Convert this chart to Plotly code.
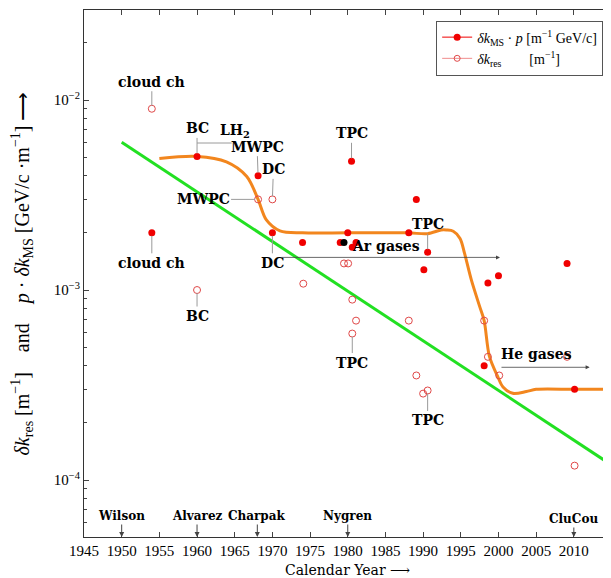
import numpy as np
import plotly.graph_objects as go

# ---- data -------------------------------------------------------------
ms_years = [1954, 1960, 1968.1, 1970, 1974, 1979, 1980, 1980.5, 1980.6, 1981.1,
            1988.1, 1989.1, 1990.1, 1990.6, 1998.1, 1998.6, 2000, 2009.1, 2010.1]
ms_vals = [2.0e-3, 5.05e-3, 4.0e-3, 2.0e-3, 1.78e-3, 1.78e-3, 2.0e-3, 4.76e-3, 1.68e-3, 1.78e-3,
           2.0e-3, 3.0e-3, 1.28e-3, 1.58e-3, 4.0e-4, 1.09e-3, 1.19e-3, 1.38e-3, 3.0e-4]

black_years = [1979.5]
black_vals = [1.78e-3]

res_years = [1954, 1960, 1968.1, 1970, 1974.1, 1979.5, 1980.05, 1980.6, 1981.1, 1980.6,
             1988.1, 1989.1, 1990.0, 1990.6, 1998.1, 1998.6, 2000.1, 2009.1, 2010.1]
res_vals = [9.0e-3, 1.0e-3, 3.0e-3, 3.0e-3, 1.08e-3, 1.38e-3, 1.38e-3, 8.9e-4, 6.9e-4, 5.9e-4,
            6.9e-4, 3.55e-4, 2.85e-4, 2.96e-4, 6.9e-4, 4.45e-4, 3.55e-4, 4.45e-4, 1.19e-4]

trend_years = [1955, 1960, 1963.9, 1966.6, 1968.1, 1969.2, 1971, 1974, 1980, 1988, 1990.6,
               1992.4, 1993.1, 1994.0, 1994.9, 1995.5, 1996.4, 1997.5, 1998.1, 1998.8, 1999.9,
               2000.6, 2001.9, 2003.7, 2005, 2010, 2015]
trend_vals = [4.93e-3, 5.05e-3, 4.73e-3, 3.96e-3, 3.0e-3, 2.34e-3, 2.05e-3, 2.0e-3, 2.0e-3, 2.0e-3, 1.98e-3,
              2.07e-3, 2.07e-3, 2.04e-3, 1.87e-3, 1.56e-3, 1.13e-3, 8.2e-4, 6.9e-4, 4.47e-4, 3.5e-4,
              3.09e-4, 2.86e-4, 2.92e-4, 3.0e-4, 3.0e-4, 3.0e-4]

limit_years = [1950, 2015]
limit_vals = [6.0e-3, 1.2e-4]

x_ticks = list(range(1945, 2015, 5))
y_tickvals = [1e-4, 1e-3, 1e-2]
y_ticktext = ["10<sup>−4</sup>", "10<sup>−3</sup>", "10<sup>−2</sup>"]

inventors = ["Wilson", "Alvarez", "Charpak", "Nygren", "CluCou"]
inventor_years = [1950, 1960, 1968, 1980, 2010]

# pin labels: (series, index, text, dx px, dy px)
pins = [
    ("res", 0, "cloud ch", 0, -27),
    ("ms", 1, "BC", 0, -28),
    ("ms", 2, "MWPC", -1, -29),
    ("res", 3, "DC", 1, -30),
    ("res", 2, "MWPC", -55, 0),
    ("ms", 0, "cloud ch", 0, 30),
    ("ms", 3, "DC", 0, 30),
    ("res", 1, "BC", 0, 26),
    ("ms", 7, "TPC", 0, -28),
    ("ms", 13, "TPC", 0, -28),
    ("res", 9, "TPC", 0, 29),
    ("res", 13, "TPC", 0, 30),
]

# gas arrows: (label, x_start, x_end, y_arrow, x_label, y_label)
gases = [
    ("Ar gases", 1971.0, 2000.2, 1.485e-3, 1985.1, 1.71e-3),
    ("He gases", 2000.2, 2012.1, 3.92e-4, 2005.0, 4.6e-4),
]
lh2_label = ("LH<sub>2</sub>", 1965.0, 6.87e-3)

# ---- styling ----------------------------------------------------------
RED = "#f00000"
RED_OPEN = "#e04848"
ORANGE = "#f2861e"
GREEN = "#22e022"
GRAY = "#9a9a9a"
SERIF = "Liberation Serif"
BOLD = "DejaVu Serif"

fig = go.Figure()

fig.add_trace(go.Scatter(x=limit_years, y=limit_vals, mode="lines",
                         line=dict(color=GREEN, width=3), showlegend=False, hoverinfo="skip"))
fig.add_trace(go.Scatter(x=trend_years, y=trend_vals, mode="lines",
                         line=dict(color=ORANGE, width=3, shape="spline", smoothing=0.9),
                         showlegend=False, hoverinfo="skip"))
fig.add_trace(go.Scatter(x=res_years, y=res_vals, mode="markers",
                         marker=dict(symbol="circle-open", size=7, color=RED_OPEN,
                                     line=dict(width=1, color=RED_OPEN)),
                         showlegend=False))
fig.add_trace(go.Scatter(x=ms_years, y=ms_vals, mode="markers",
                         marker=dict(symbol="circle", size=7, color=RED), showlegend=False))
fig.add_trace(go.Scatter(x=black_years, y=black_vals, mode="markers",
                         marker=dict(symbol="circle", size=7, color="black"), showlegend=False))

# legend entries
fig.add_trace(go.Scatter(x=[None], y=[None], mode="lines+markers",
                         name="<i>δk</i><sub>MS</sub> · <i>p</i> [m<sup>−1</sup> GeV/c]",
                         line=dict(color=RED, width=1), marker=dict(color=RED, size=7)))
fig.add_trace(go.Scatter(x=[None], y=[None], mode="lines+markers",
                         name="<i>δk</i><sub>res</sub>\u00a0\u00a0\u00a0\u00a0\u00a0\u00a0\u00a0 [m<sup>−1</sup>]",
                         line=dict(color="#f08c8c", width=1),
                         marker=dict(symbol="circle-open", color=RED_OPEN, size=6,
                                     line=dict(width=1, color=RED_OPEN))))

annotations = []
series = {"ms": (ms_years, ms_vals), "res": (res_years, res_vals)}
for s, i, txt, dx, dy in pins:
    xs, ys = series[s]
    annotations.append(dict(x=xs[i], y=np.log10(ys[i]), xref="x", yref="y",
                            text="<b>%s</b>" % txt, showarrow=True, arrowhead=0,
                            arrowcolor=GRAY, arrowwidth=1, ax=dx, ay=dy, standoff=3,
                            borderpad=1, font=dict(family=BOLD, size=14, color="black")))

for label, x0, x1, ya, xl, yl in gases:
    annotations.append(dict(x=x1, y=np.log10(ya), ax=x0, ay=np.log10(ya), xref="x", yref="y",
                            axref="x", ayref="y", text="", showarrow=True, arrowhead=2,
                            arrowsize=1, arrowwidth=0.8, arrowcolor="#444"))
    annotations.append(dict(x=xl, y=np.log10(yl), xref="x", yref="y", text="<b>%s</b>" % label,
                            showarrow=False, font=dict(family=BOLD, size=14, color="black")))

annotations.append(dict(x=lh2_label[1], y=np.log10(lh2_label[2]), xref="x", yref="y",
                        text="<b>%s</b>" % lh2_label[0], showarrow=False,
                        font=dict(family=BOLD, size=14, color="black")))

for name, yr in zip(inventors, inventor_years):
    annotations.append(dict(x=yr, y=0, xref="x", yref="paper", text="<b>%s</b>" % name,
                            showarrow=True, arrowhead=2, arrowsize=1, arrowwidth=1,
                            arrowcolor="#444", ax=0, ay=-21 if name != "CluCou" else -18,
                            font=dict(family=BOLD, size=12, color="black")))

# axis titles (centred on the plot area)
annotations.append(dict(x=-0.118, y=0.5, xref="paper", yref="paper", textangle=-90,
                        xanchor="center", yanchor="middle", showarrow=False,
                        text="<i>δk</i><sub>res</sub> [m<sup>−1</sup>]\u00a0\u00a0\u00a0 and \u00a0\u00a0\u00a0<i>p</i> · <i>δk</i><sub>MS</sub> [GeV/c ·m<sup>−1</sup>] ⟶",
                        font=dict(family=SERIF, size=20, color="black")))
annotations.append(dict(x=0.5, y=-0.0626, xref="paper", yref="paper", showarrow=False,
                        xanchor="center", yanchor="middle",
                        text="Calendar Year ⟶", font=dict(family=BOLD, size=14, color="black")))

shapes = [dict(type="line", xref="x", yref="paper", x0=1960, x1=1964.6,
               y0=(537 - 143) / 527, y1=(537 - 143) / 527, line=dict(color=GRAY, width=1))]

# the page body adds an 8px offset; size the figure so the plot area lands where the reference has it
fig.update_layout(
    width=603, height=570,
    margin=dict(l=76, r=1, t=2, b=41, autoexpand=False),
    plot_bgcolor="white", paper_bgcolor="white",
    font=dict(family=SERIF, size=14, color="black"),
    annotations=annotations, shapes=shapes,
    legend=dict(x=0.987, y=0.98, xanchor="right", yanchor="top",
                bordercolor="#555", borderwidth=1, bgcolor="white",
                font=dict(family=SERIF, size=14), tracegroupgap=0),
)
fig.update_xaxes(range=[1945, 2014.8], tickvals=x_ticks, ticks="inside", ticklen=5,
                 showline=True, linecolor="#333", linewidth=1, mirror="ticks",
                 automargin=False,
                 showgrid=False, zeroline=False, tickfont=dict(family=SERIF, size=15))
fig.update_yaxes(type="log", range=[-4.3, -1.526], tickvals=y_tickvals, ticktext=y_ticktext,
                 ticks="inside", ticklen=5, showline=True, linecolor="#333", linewidth=1,
                 mirror="ticks", showgrid=False, zeroline=False, automargin=False,
                 tickfont=dict(family=SERIF, size=15),
                 minor=dict(ticks="inside", ticklen=3, dtick="D1", showgrid=False))

fig.write_html("out.html")
